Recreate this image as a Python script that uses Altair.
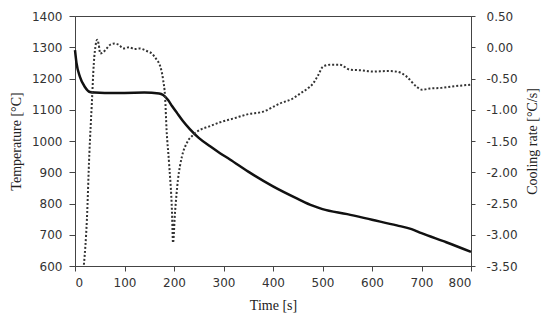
import altair as alt
import pandas as pd

# Temperature curve (left axis)
temp_time = [0, 3, 10, 20, 30, 40, 60, 100, 140, 170, 178, 188, 196, 206, 218, 232, 250, 273,
             293, 313, 350, 400, 450, 480, 500, 550, 600, 650, 680, 700, 750, 800]
temp_val = [1291, 1250, 1205, 1173, 1157, 1155, 1154, 1154, 1155, 1152, 1147, 1131, 1112, 1090,
            1064, 1038, 1010, 983, 961, 941, 902, 855, 815, 793, 782, 766, 748, 730, 718, 705, 676, 645]

# Cooling rate curve (right axis)
rate_time = [18, 24, 29, 34, 38, 42, 45, 48, 51, 57, 64, 71, 80, 90, 97, 110, 120, 130, 145, 155,
             165, 172, 178, 182, 185, 190, 196, 198, 202, 208, 216, 226, 239, 253, 270, 293, 320,
             350, 380, 414, 440, 455, 470, 481, 491, 501, 515, 535, 556, 580, 602, 630, 650, 670,
             690, 701, 717, 740, 760, 784, 800]
rate_val = [-3.48, -2.76, -1.7, -0.9, -0.26, 0.05, 0.12, 0.04, -0.1, -0.08, -0.02, 0.04, 0.06, 0.03,
            -0.02, 0.0, -0.03, -0.02, -0.06, -0.1, -0.2, -0.3, -0.52, -0.8, -1.32, -1.85, -2.65,
            -3.13, -2.65, -2.12, -1.75, -1.53, -1.4, -1.32, -1.27, -1.2, -1.14, -1.07, -1.03, -0.9,
            -0.82, -0.74, -0.66, -0.58, -0.45, -0.31, -0.28, -0.28, -0.36, -0.37, -0.39, -0.38,
            -0.39, -0.47, -0.63, -0.68, -0.66, -0.65, -0.63, -0.61, -0.6]

x_ticks = [0, 100, 200, 300, 400, 500, 600, 700, 800]
temp_ticks = [600, 700, 800, 900, 1000, 1100, 1200, 1300, 1400]
rate_ticks = [-3.5, -3.0, -2.5, -2.0, -1.5, -1.0, -0.5, 0.0, 0.5]

temp_df = pd.DataFrame({"time": temp_time, "temp": temp_val})
rate_df = pd.DataFrame({"time": rate_time, "rate": rate_val})

x_enc = alt.X("time:Q", scale=alt.Scale(domain=[0, 800], nice=False),
              axis=alt.Axis(values=x_ticks, title="Time [s]", tickSize=5, labelPadding=6,
                            titlePadding=10))

temp_line = alt.Chart(temp_df).mark_line(color="#111111", strokeWidth=2.5, interpolate="monotone").encode(
    x=x_enc,
    y=alt.Y("temp:Q", scale=alt.Scale(domain=[600, 1400], nice=False),
            axis=alt.Axis(values=temp_ticks, title="Temperature [°C]", orient="left", format="d",
                          tickSize=6, labelPadding=7, titlePadding=8)),
)

rate_line = alt.Chart(rate_df).mark_line(color="#333333", strokeWidth=2, strokeDash=[2, 2],
                                         interpolate="monotone", clip=True).encode(
    x=alt.X("time:Q", scale=alt.Scale(domain=[0, 800], nice=False)),
    y=alt.Y("rate:Q", scale=alt.Scale(domain=[-3.5, 0.5], nice=False),
            axis=alt.Axis(values=rate_ticks, title="Cooling rate [°C/s]", orient="right",
                          tickSize=4, labelPadding=11, titlePadding=22, titleAngle=270,
                          labelExpr="replace(format(datum.value, '.2f'), '\u2212', '-')")),
)

chart = alt.layer(temp_line, rate_line).resolve_scale(y="independent").properties(
    width=396, height=250,
    autosize=alt.AutoSizeParams(type="none"),
    padding={"left": 67, "top": 8, "right": 70, "bottom": 50},
    background="white",
).configure_view(stroke="#444444", strokeWidth=1).configure_axis(
    grid=False,
    domainColor="#444444",
    tickColor="#444444",
    labelFont="DejaVu Sans",
    labelFontSize=12,
    labelColor="#333333",
    titleFont="Liberation Serif",
    titleFontSize=14,
    titleFontWeight="normal",
    titleColor="#222222",
)

chart.save("out.html", embed_options={"renderer": "svg", "actions": False})
